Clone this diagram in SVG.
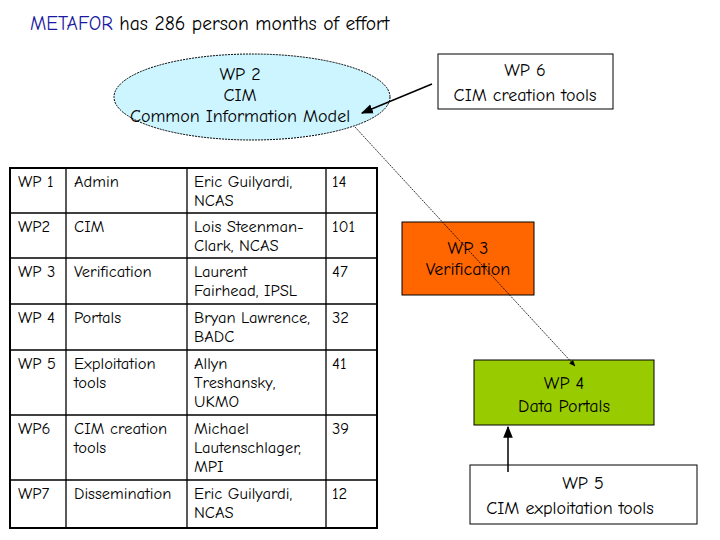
<svg xmlns="http://www.w3.org/2000/svg" width="720" height="540" viewBox="0 0 720 540">
<style>
text{font-family:"Comic Neue","DejaVu Sans","Liberation Sans",sans-serif;font-size:16.5px;fill:#000}
.c{text-anchor:middle}
.b{font-size:18px}
.g{stroke:#000;stroke-width:1.3}
</style>
<defs>
<marker id="a" viewBox="0 0 10 10" refX="9" refY="5" markerWidth="8" markerHeight="8" orient="auto"><path d="M0,1L10,5L0,9z" fill="#000"/></marker>
</defs>
<rect width="720" height="540" fill="#fff"/>
<text x="30" y="30" style="font-size:19.5px"><tspan fill="#1a1aa0">METAFOR</tspan> has 286 person months of effort</text>
<g id="wp2"><ellipse cx="252" cy="97" rx="138" ry="43" fill="#ccf5ff" stroke="#000" stroke-dasharray="2,1"/>
<text class="c b" x="240" y="80">WP 2</text><text class="c b" x="240" y="101">CIM</text><text class="c b" x="240" y="122">Common Information Model</text></g>
<g id="wp6"><rect x="438" y="54" width="175" height="55" fill="#fff" stroke="#000"/>
<text class="c b" x="525" y="76">WP 6</text><text class="c b" x="525" y="101">CIM creation tools</text></g>
<g id="wp3"><rect x="402" y="222" width="132" height="73" fill="#ff6600" stroke="#000"/>
<text class="c b" x="468" y="254">WP 3</text><text class="c b" x="468" y="275">Verification</text></g>
<g id="wp4"><rect x="474" y="360" width="180" height="65" fill="#99cc00" stroke="#000"/>
<text class="c b" x="564" y="389">WP 4</text><text class="c b" x="564" y="412">Data Portals</text></g>
<g id="wp5"><rect x="470" y="465" width="227" height="59" fill="#fff" stroke="#000"/>
<text class="c b" x="583" y="489">WP 5</text><text class="c b" x="570" y="514">CIM exploitation tools</text></g>
<g id="connectors" stroke="#000" fill="none">
<line x1="432" y1="84" x2="362" y2="113" stroke-width="1.5" marker-end="url(#a)"/>
<line x1="355" y1="127" x2="575" y2="366" stroke-width="0.8" stroke-dasharray="2,1" marker-end="url(#a)"/>
<line x1="508" y1="472" x2="508" y2="427" stroke-width="1.5" marker-end="url(#a)"/>
</g>
<g id="table">
<rect x="10" y="168" width="367" height="360" fill="#fff" stroke="#000" stroke-width="2"/>
<g class="g"><line x1="66" y1="168" x2="66" y2="528"/><line x1="187" y1="168" x2="187" y2="528"/><line x1="326" y1="168" x2="326" y2="528"/>
<line x1="10" y1="213" x2="377" y2="213"/><line x1="10" y1="258" x2="377" y2="258"/><line x1="10" y1="304" x2="377" y2="304"/><line x1="10" y1="350" x2="377" y2="350"/><line x1="10" y1="415" x2="377" y2="415"/><line x1="10" y1="480" x2="377" y2="480"/></g>
<text x="18" y="187">WP 1</text><text x="74" y="187">Admin</text><text x="194" y="187">Eric Guilyardi,</text><text x="194" y="206">NCAS</text><text x="332" y="187">14</text>
<text x="18" y="232">WP2</text><text x="74" y="232">CIM</text><text x="194" y="232">Lois Steenman-</text><text x="194" y="251">Clark, NCAS</text><text x="332" y="232">101</text>
<text x="18" y="277">WP 3</text><text x="74" y="277">Verification</text><text x="194" y="277">Laurent</text><text x="194" y="296">Fairhead, IPSL</text><text x="332" y="277">47</text>
<text x="18" y="323">WP 4</text><text x="74" y="323">Portals</text><text x="194" y="323">Bryan Lawrence,</text><text x="194" y="342">BADC</text><text x="332" y="323">32</text>
<text x="18" y="369">WP 5</text><text x="74" y="369">Exploitation</text><text x="74" y="388">tools</text><text x="194" y="369">Allyn</text><text x="194" y="388">Treshansky,</text><text x="194" y="407">UKMO</text><text x="332" y="369">41</text>
<text x="18" y="434">WP6</text><text x="74" y="434">CIM creation</text><text x="74" y="453">tools</text><text x="194" y="434">Michael</text><text x="194" y="453">Lautenschlager,</text><text x="194" y="472">MPI</text><text x="332" y="434">39</text>
<text x="18" y="499">WP7</text><text x="74" y="499">Dissemination</text><text x="194" y="499">Eric Guilyardi,</text><text x="194" y="518">NCAS</text><text x="332" y="499">12</text>
</g>
</svg>
